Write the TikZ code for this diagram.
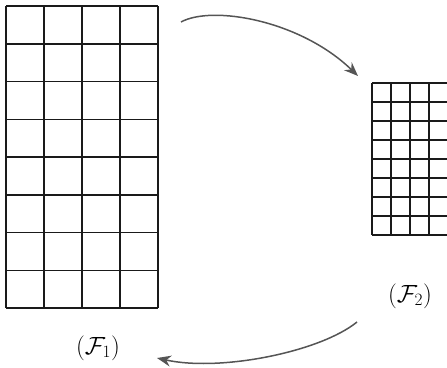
\documentclass[tikz,border=0pt]{standalone}
\usepackage{amsmath,amssymb}
\usepackage{xcolor}
\usepackage{tikz}
\usetikzlibrary{arrows.meta,positioning}
\definecolor{grilletrait}{HTML}{1A1A1A}
\definecolor{flechegris}{HTML}{555555}

\begin{document}
\begin{tikzpicture}[x=1pt,y=-1pt,
    grille/.style={grilletrait,line width=1.5pt},
    fleche/.style={flechegris,line width=1.5pt,-{Stealth[length=14pt,width=11pt]}},
    etiq/.style={font=\fontsize{26}{30}\selectfont}]
    \useasboundingbox (0,0) rectangle (447,367);
    % grande grille, 4 x 8
    \foreach \i in {0,...,4}
      \draw[grille] (6+38*\i,6) -- (6+38*\i,308);
    \foreach \j in {0,...,8}
      \draw[grille] (6,6+37.75*\j) -- (158,6+37.75*\j);
    % petite grille, pas moitie
    \foreach \i in {0,...,4}
      \draw[grille] (372+19*\i,83) -- (372+19*\i,235);
    \foreach \j in {0,...,8}
      \draw[grille] (372,83+19*\j) -- (448,83+19*\j);
    % etiquettes
    \node[etiq] (fun) at (98,348) {$(\mathcal{F}_1)$};
    \node[etiq] (fdeux) at (410,296) {$(\mathcal{F}_2)$};
    % extremites des fleches
    \coordinate (hautA) at (181,22);
    \coordinate (hautB) at (358,76);
    \coordinate (basA)  at (357,322);
    \coordinate (basB)  at (157,358);
    \draw[fleche] (hautA) .. controls (212,5) and (300,20) .. (hautB);
    \draw[fleche] (basA) .. controls (320,352) and (220,372) .. (basB);
\end{tikzpicture}
\end{document}
